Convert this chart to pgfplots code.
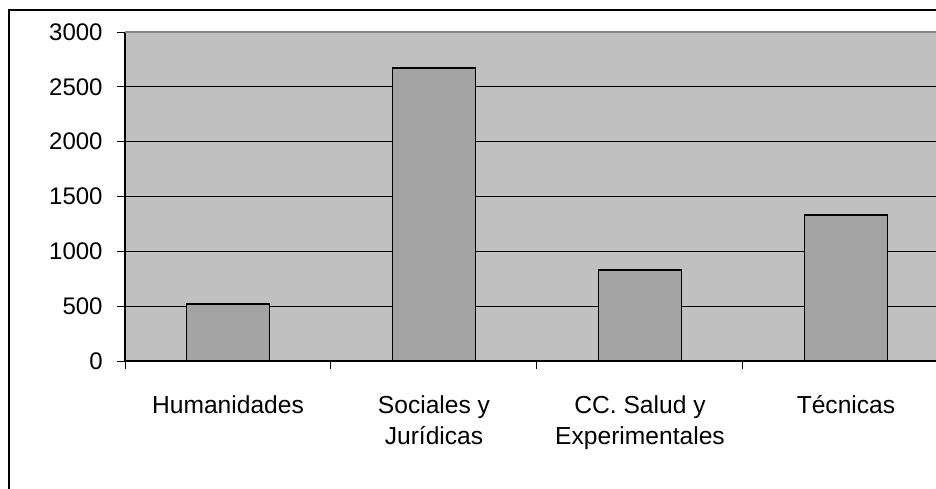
\documentclass[border=0pt]{standalone}
\usepackage{fontspec}
\setmainfont{Liberation Sans}
\usepackage{pgfplots}
\pgfplotsset{compat=1.18}
\definecolor{plotbg}{HTML}{C0C0C0}
\definecolor{barfill}{HTML}{A3A3A3}
\definecolor{bordergray}{HTML}{888888}
\begin{document}
\begin{tikzpicture}
\useasboundingbox (0,0) rectangle (468pt,244pt);
\draw[black, line width=0.6pt] (4.5pt,-10pt) -- (4.5pt,239pt) -- (480pt,239pt);
\begin{axis}[
  at={(62.5pt,63.5pt)}, anchor=south west,
  scale only axis, width=405.5pt, height=164.5pt,
  xmin=-0.5, xmax=3.437, ymin=0, ymax=3000,
  axis x line*=bottom, axis y line*=left,
  axis line style={black, line width=0.6pt, -},
  axis background/.style={fill=plotbg},
  ytick={0,500,...,3000},
  ymajorgrids, grid style={black, line width=0.5pt},
  tick align=outside, major tick length=4pt,
  tick style={black, line width=0.5pt},
  xtick={-0.5,0.5,1.5,2.5},
  xticklabels={},
  extra x ticks={0,1,2,3},
  extra x tick labels={\strut Humanidades, {\strut Sociales y\\Jurídicas}, {\strut CC. Salud y\\Experimentales}, \strut Técnicas},
  extra x tick style={x tick style={draw=none}, grid=none},
  /pgf/number format/assume math mode=true,
  /pgf/number format/1000 sep={},
  yticklabel style={font=\fontsize{12}{15.7}\selectfont, anchor=east, inner sep=0pt, xshift=-7pt},
  xticklabel style={font=\fontsize{12.3}{15.7}\selectfont, align=center, anchor=north, inner sep=0pt, yshift=-11pt},
  ybar, bar width=0.403,
  clip=false,
]
\addplot[fill=barfill, draw=black, line width=0.9pt] coordinates {(0,520) (1,2675) (2,830) (3,1331)};
\draw[bordergray, line width=0.9pt] (rel axis cs:0,1) -- (rel axis cs:1,1);
\end{axis}
\end{tikzpicture}
\end{document}
